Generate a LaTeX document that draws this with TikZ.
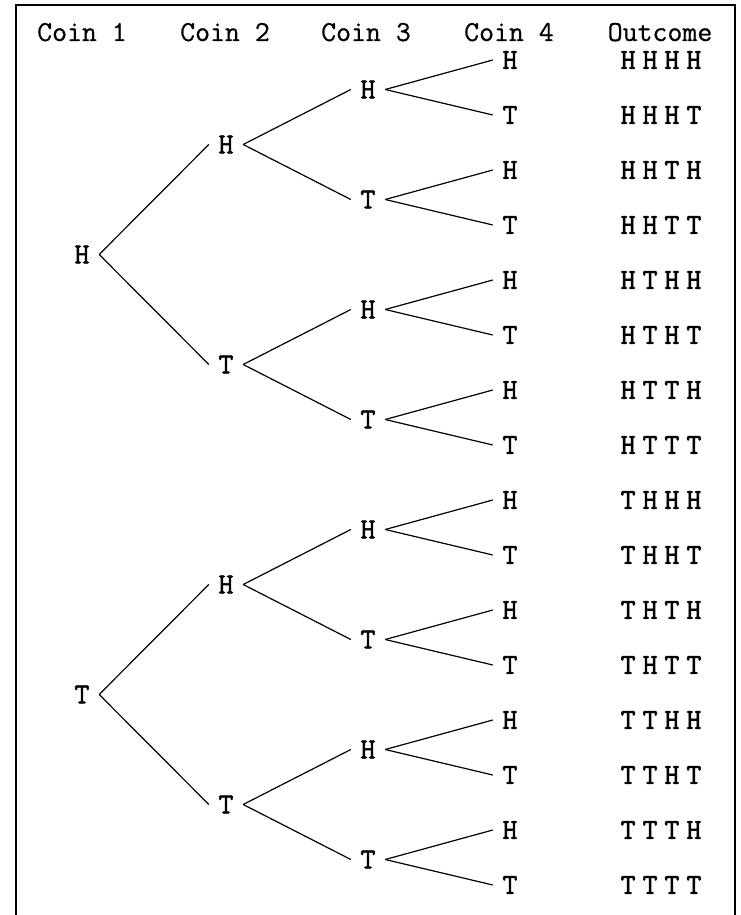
\documentclass[tikz,border=0pt]{standalone}
\usepackage{fontspec}
\newfontfamily\boldmono[FakeBold=2]{Latin Modern Mono}
\newfontfamily\hdrmono[FakeBold=0.6]{Latin Modern Mono}
\def\spc#1#2#3#4{#1\kern7pt#2\kern7pt#3\kern7pt#4}
\begin{document}
\begin{tikzpicture}[x=1pt,y=-1pt,
  hdr/.style={font=\hdrmono\fontsize{29}{29}\selectfont, anchor=base, inner sep=0pt},
  lf/.style={font=\boldmono\fontsize{29}{29}\selectfont, inner sep=0pt, minimum width=34pt},
  oc/.style={font=\boldmono\fontsize{29}{29}\selectfont, inner sep=0pt},
  br/.style={line width=1.2pt},
  frame/.style={line width=2pt}]
\useasboundingbox (0,0) rectangle (741,915);
\coordinate (fa) at (16,915);
\coordinate (fb) at (16,5);
\coordinate (fc) at (735,5);
\coordinate (fd) at (735,915);
\draw[frame] (fa) -- (fb) -- (fc) -- (fd);
% headers
\node[hdr] (h1) at (82,41) {Coin 1};
\node[hdr] (h2) at (225,41) {Coin 2};
\node[hdr] (h3) at (366,41) {Coin 3};
\node[hdr] (h4) at (509,41) {Coin 4};
\node[hdr] (h5) at (660,41) {Outcome};
% leaves and outcomes
\foreach \i/\l/\o in {0/H/HHHH,1/T/HHHT,2/H/HHTH,3/T/HHTT,4/H/HTHH,5/T/HTHT,6/H/HTTH,7/T/HTTT,
  8/H/THHH,9/T/THHT,10/H/THTH,11/T/THTT,12/H/TTHH,13/T/TTHT,14/H/TTTH,15/T/TTTT}{
  \node[lf] (d\i) at (510,{60+55*\i}) {\l};
  \node[oc] (o\i) at (661,{60+55*\i}) {\expandafter\spc\o};
}
% coin 3
\foreach \j/\l in {0/H,1/T,2/H,3/T,4/H,5/T,6/H,7/T}{
  \node[lf] (c\j) at (368,{89.5+110*\j}) {\l};
  \pgfmathtruncatemacro{\a}{2*\j}
  \pgfmathtruncatemacro{\b}{2*\j+1}
  \draw[br] (c\j.east) -- (d\a.west);
  \draw[br] (c\j.east) -- (d\b.west);
}
% coin 2
\foreach \k/\l in {0/H,1/T,2/H,3/T}{
  \node[lf] (b\k) at (226,{144.5+220*\k}) {\l};
  \pgfmathtruncatemacro{\a}{2*\k}
  \pgfmathtruncatemacro{\b}{2*\k+1}
  \draw[br] (b\k.east) -- (c\a.west);
  \draw[br] (b\k.east) -- (c\b.west);
}
% coin 1
\foreach \m/\l in {0/H,1/T}{
  \node[lf] (a\m) at (82,{254.5+440*\m}) {\l};
  \pgfmathtruncatemacro{\a}{2*\m}
  \pgfmathtruncatemacro{\b}{2*\m+1}
  \draw[br] (a\m.east) -- (b\a.west);
  \draw[br] (a\m.east) -- (b\b.west);
}
\end{tikzpicture}
\end{document}
